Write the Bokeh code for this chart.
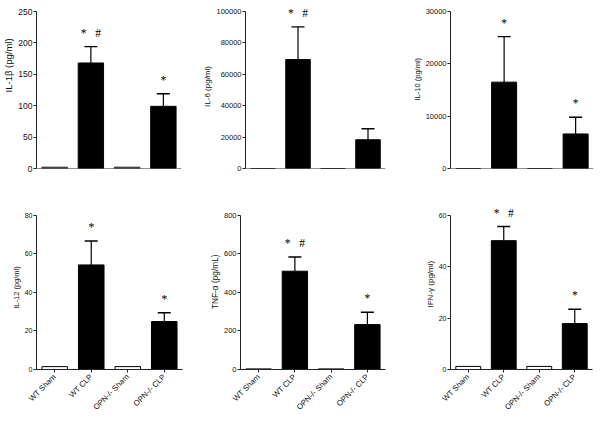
import math
from bokeh.plotting import figure
from bokeh.models import (FactorRange, Range1d, FixedTicker, Whisker, TeeHead,
                          ColumnDataSource, BasicTickFormatter, Span, LabelSet)
from bokeh.layouts import column, row
from bokeh.embed import file_html
from bokeh.resources import INLINE

groups = ["WT Sham", "WT CLP", "OPN-/- Sham", "OPN-/- CLP"]

NB = "\u00a0"
STAR_HASH = "*" + NB * 3 + "#"

il1b_mean = [2, 168, 2, 99]
il1b_err = [0, 26, 0, 20]
il1b_sig = ["", STAR_HASH, "", "*"]

il6_mean = [0, 69400, 0, 18300]
il6_err = [0, 20800, 0, 7000]
il6_sig = ["", STAR_HASH, "", ""]

il10_mean = [0, 16500, 0, 6600]
il10_err = [0, 8700, 0, 3200]
il10_sig = ["", "*", "", "*"]

il12_mean = [1.5, 54.3, 1.5, 24.9]
il12_err = [0, 12.4, 0, 4.6]
il12_sig = ["", "*", "", "*"]

tnfa_mean = [3, 510, 3, 233]
tnfa_err = [0, 74, 0, 64]
tnfa_sig = ["", STAR_HASH, "", "*"]

ifng_mean = [1.2, 50.2, 1.2, 17.9]
ifng_err = [0, 5.5, 0, 5.6]
ifng_sig = ["", STAR_HASH, "", "*"]

FONT = "Liberation Sans"
INK = "#111111"
BAR_FILL = ["white", "black", "white", "black"]


def make_panel(ylabel, ymax, ticks, mean, err, sig, show_x, w, h,
               mb_left, mb_right, mb_top, mb_bottom, head_px, axis_px,
               label_size="8px", tick_size="7.5px", label_pad=0):
    # extra headroom above the top tick so the significance marks are not clipped
    y_end = ymax * (1 + head_px / axis_px)
    p = figure(x_range=FactorRange(factors=groups, range_padding=0.0),
               y_range=Range1d(0, y_end),
               width=w, height=h, output_backend="svg", toolbar_location=None,
               min_border_left=mb_left, min_border_right=mb_right,
               min_border_top=mb_top, min_border_bottom=mb_bottom)
    p.outline_line_color = None
    p.grid.grid_line_color = None
    p.background_fill_color = "white"

    src = ColumnDataSource(dict(x=groups, top=mean, fill=BAR_FILL,
                                up=[m + e for m, e in zip(mean, err)], sig=sig))
    p.vbar(x="x", top="top", bottom=0, width=0.7, source=src,
           fill_color="fill", line_color="black", line_width=1)

    idx = [i for i, e in enumerate(err) if e > 0]
    esrc = ColumnDataSource(dict(x=[groups[i] for i in idx],
                                 lo=[mean[i] for i in idx],
                                 hi=[mean[i] + err[i] for i in idx]))
    wh = Whisker(base="x", lower="lo", upper="hi", source=esrc,
                 line_color="black", line_width=1.2, lower_head=None,
                 upper_head=TeeHead(size=13, line_color="black", line_width=1.4))
    p.add_layout(wh)

    labels = LabelSet(x="x", y="up", text="sig", source=src, text_align="center",
                      text_baseline="bottom", y_offset=8,
                      text_font=FONT, text_font_size="11.5px", text_color="black")
    p.add_layout(labels)

    ya = p.yaxis[0]
    ya.bounds = (0, ymax)
    ya.ticker = FixedTicker(ticks=ticks)
    ya.formatter = BasicTickFormatter(use_scientific=False)
    ya.axis_label = NB * label_pad + ylabel
    ya.axis_label_text_font = FONT
    ya.axis_label_text_font_size = label_size
    ya.axis_label_text_font_style = "normal"
    ya.axis_label_text_color = INK
    ya.axis_label_standoff = 1
    ya.major_label_text_font = FONT
    ya.major_label_text_font_size = tick_size
    ya.major_label_text_color = INK
    ya.major_label_standoff = 1
    ya.major_tick_out = 3
    ya.major_tick_in = 0
    ya.minor_tick_out = 0
    ya.minor_tick_in = 0
    ya.axis_line_color = "#222222"
    ya.major_tick_line_color = "#222222"

    xa = p.xaxis[0]
    if show_x:
        xa.axis_line_color = "#222222"
        xa.major_tick_line_color = "#222222"
        xa.major_tick_out = 3
        xa.major_tick_in = 0
        xa.major_label_text_font = FONT
        xa.major_label_text_font_size = "7.8px"
        xa.major_label_text_color = INK
        xa.major_label_orientation = math.pi / 4
        xa.major_label_standoff = 3
    else:
        xa.visible = False
        p.add_layout(Span(location=0, dimension="width",
                          line_color="#222222", line_width=1))
    return p


p1 = make_panel("IL-1\u03b2 (pg/ml)", 250, [0, 50, 100, 150, 200, 250],
                il1b_mean, il1b_err, il1b_sig, False, 200, 188, 36, 19, 4, 20, 7, 157,
                label_size="9.5px", tick_size="8.5px", label_pad=16)
p2 = make_panel("IL-6 (pg/ml)", 100000, [0, 20000, 40000, 60000, 80000, 100000],
                il6_mean, il6_err, il6_sig, False, 200, 188, 39, 15, 4, 20, 7, 157,
                label_size="8px", tick_size="7.5px")
p3 = make_panel("IL-10 (pg/ml)", 30000, [0, 10000, 20000, 30000],
                il10_mean, il10_err, il10_sig, False, 200, 188, 50, 7, 4, 20, 7, 157,
                label_size="7.5px", tick_size="7.5px", label_pad=7)
p4 = make_panel("IL-12 (pg/ml)", 80, [0, 20, 40, 60, 80],
                il12_mean, il12_err, il12_sig, True, 200, 235, 36, 18, 16, 54, 10, 155,
                label_size="7.5px", tick_size="7px")
p5 = make_panel("TNF-\u03b1 (pg/mL)", 800, [0, 200, 400, 600, 800],
                tnfa_mean, tnfa_err, tnfa_sig, True, 200, 235, 40, 15, 14, 54, 10, 157,
                label_size="8.3px", tick_size="7.5px", label_pad=5)
p6 = make_panel("IFN-\u03b3 (pg/ml)", 60, [0, 20, 40, 60],
                ifng_mean, ifng_err, ifng_sig, True, 200, 235, 50, 8, 17, 54, 10, 154,
                label_size="8px", tick_size="7px", label_pad=3)

layout = column(row(p1, p2, p3, spacing=0), row(p4, p5, p6, spacing=0), spacing=0)

open("out.html", "w").write(file_html(layout, INLINE))
